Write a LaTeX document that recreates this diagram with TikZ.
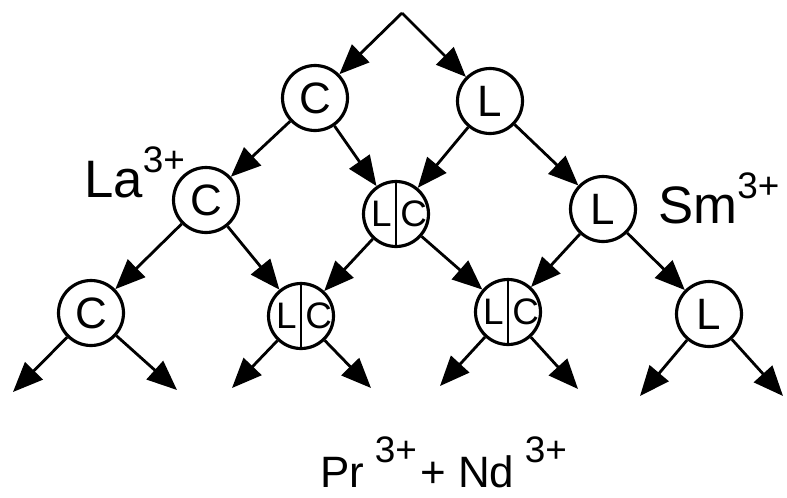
\documentclass[tikz,border=0pt]{standalone}
\usepackage{fontspec}
\setmainfont{Liberation Sans}
\usetikzlibrary{arrows.meta}
\newcommand{\ion}[3][0pt]{#2\kern#1\raisebox{14pt}{\fontsize{21}{23}\selectfont #3}}
\newcommand{\lcsplit}{\llap{L\kern2.5pt}\rlap{\kern2.5pt C}}

\begin{document}
\begin{tikzpicture}[x=0.02cm,y=-0.02cm,
    ion/.style={circle,draw,line width=1.8pt,minimum size=1.3cm,inner sep=0pt,
      font=\fontsize{25}{28}\selectfont},
    mixed/.style={ion,font=\fontsize{21}{24}\selectfont},
    lbl/.style={anchor=base west,inner sep=0pt,font=\fontsize{30}{32}\selectfont}]
    \useasboundingbox (0,0) rectangle (787,497);

    \coordinate (top) at (402,13);
    \node[ion] (c1) at (315,98) {C};
    \node[ion] (l1) at (490,101) {L};
    \node[ion] (c2) at (206,200) {C};
    \node[mixed] (lc1) at (396,214) {\lcsplit};
    \node[ion] (l2) at (603,209) {L};
    \node[ion] (c3) at (91,313) {C};
    \node[mixed] (lc2) at (301,316) {\lcsplit};
    \node[mixed] (lc3) at (508,312) {\lcsplit};
    \node[ion] (l3) at (709,314) {L};
    \foreach \n in {lc1,lc2,lc3}
      \draw[line width=1.5pt] (\n.north) -- (\n.south);

    \coordinate (e1) at (13,392);
    \coordinate (e2) at (177,390);
    \coordinate (e3) at (232,388);
    \coordinate (e4) at (371,388);
    \coordinate (e5) at (440,386);
    \coordinate (e6) at (578,389);
    \coordinate (e7) at (640,396);
    \coordinate (e8) at (783,396);

    \node[lbl] (la) at (84,197) {\ion{La}{3+}};
    \node[lbl] (sm) at (658,223) {\ion{Sm}{3+}};
    \node[lbl,font=\fontsize{25}{28}\selectfont] (prnd) at (320,487)
      {\ion[6pt]{Pr}{3+}\kern2pt+ \ion[6pt]{Nd}{3+}};

    \path[-{Triangle[length=17pt,width=14pt]},line width=1.6pt]
    (top) edge (c1)
    (top) edge (l1)
    (c1) edge (c2)
    (c1) edge (lc1)
    (l1) edge (lc1)
    (l1) edge (l2)
    (c2) edge (c3)
    (c2) edge (lc2)
    (lc1) edge (lc2)
    (lc1) edge (lc3)
    (l2) edge (lc3)
    (l2) edge (l3)
    (c3) edge (e1)
    (c3) edge (e2)
    (lc2) edge (e3)
    (lc2) edge (e4)
    (lc3) edge (e5)
    (lc3) edge (e6)
    (l3) edge (e7)
    (l3) edge (e8)
    ;
\end{tikzpicture}
\end{document}
